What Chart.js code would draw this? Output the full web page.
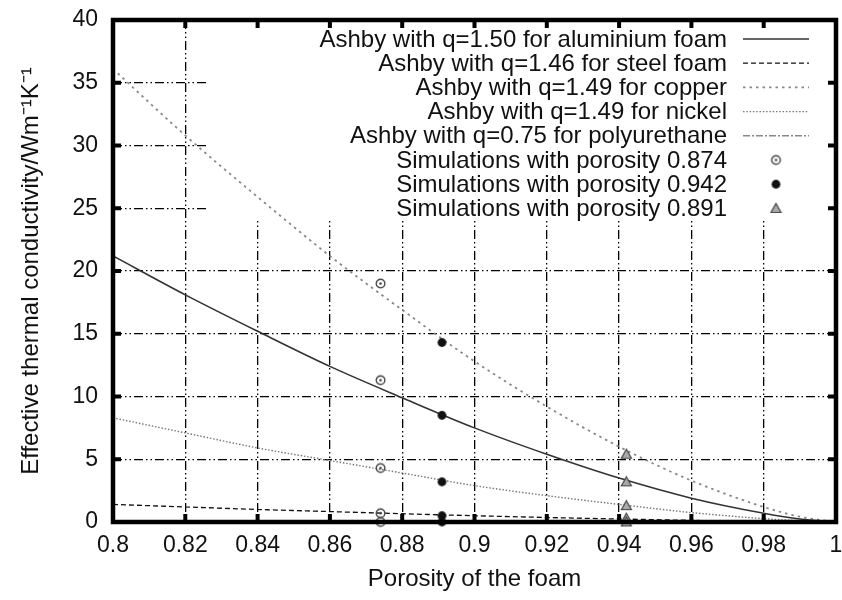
<!DOCTYPE html>
<html lang="en">
<head>
<meta charset="utf-8">
<title>Effective thermal conductivity of foams</title>
<script src="https://cdn.jsdelivr.net/npm/chart.js@4.4.1/dist/chart.umd.min.js"></script>
<style>
    html, body { margin: 0; padding: 0; background: #fff; }
    canvas { display: block; }
</style>
</head>
<body>
<canvas id="conductivityChart" width="842" height="600"></canvas>
<script>
// Porosity values at which the model curves are sampled
const porosity = [0.80, 0.82, 0.84, 0.86, 0.88, 0.90, 0.92, 0.94, 0.96, 0.98, 0.99, 1.00];

// Ashby model curves, effective conductivity in W/(m K)
const aluminium = [21.2, 18.1, 15.2, 12.4, 9.9, 7.5, 5.4, 3.5, 1.9, 0.7, 0.24, 0];
const steel = [1.4, 1.2, 1.0, 0.83, 0.66, 0.5, 0.36, 0.24, 0.13, 0.05, 0.02, 0];
const copper = [36.1, 30.8, 25.9, 21.2, 16.9, 12.8, 9.2, 6.0, 3.3, 1.2, 0.42, 0];
const nickel = [8.3, 7.1, 5.9, 4.9, 3.9, 2.9, 2.1, 1.4, 0.75, 0.27, 0.1, 0];
const polyurethane = [0.08, 0.07, 0.06, 0.05, 0.04, 0.035, 0.03, 0.02, 0.015, 0.008, 0.004, 0];

const curveLabels = [
    'Ashby with q=1.50 for aluminium foam',
    'Ashby with q=1.46 for steel foam',
    'Ashby with q=1.49 for copper',
    'Ashby with q=1.49 for nickel',
    'Ashby with q=0.75 for polyurethane'
];

// Simulation runs: copper, aluminium, nickel, steel, polyurethane
const ringPorosity = 0.874;
const ringK = [19.0, 11.3, 4.3, 0.7, 0.0];
const dotPorosity = 0.891;
const dotK = [14.3, 8.5, 3.2, 0.5, 0.0];
const trianglePorosity = 0.942;
const triangleK = [5.4, 3.2, 1.3, 0.3, 0.0];

const simLabels = [
    'Simulations with porosity 0.874',
    'Simulations with porosity 0.942',
    'Simulations with porosity 0.891'
];

// Axis ticks
const xTicks = [0.8, 0.82, 0.84, 0.86, 0.88, 0.9, 0.92, 0.94, 0.96, 0.98, 1];
const xTickLabels = ['0.8', '0.82', '0.84', '0.86', '0.88', '0.9', '0.92', '0.94', '0.96', '0.98', '1'];
const yTicks = [0, 5, 10, 15, 20, 25, 30, 35, 40];
const yTickLabels = ['0', '5', '10', '15', '20', '25', '30', '35', '40'];

const FONT = '"Liberation Sans", Arial, Helvetica, sans-serif';
const GRID_DASH = [9, 3, 1.5, 3, 1.5, 3];

// key box (in pixels) - grid lines are hidden behind it
const KEY = {
    left: 207,
    bottom: 221,
    textRight: 727,
    sampleFrom: 743,
    sampleTo: 809,
    firstRow: 39,
    rowStep: 24.2
};

// small canvases used as point markers
function makeMarker(size, draw) {
    const c = document.createElement('canvas');
    c.width = size;
    c.height = size;
    draw(c.getContext('2d'), size / 2);
    return c;
}

const ringMarker = makeMarker(13, (g, c) => {
    g.strokeStyle = '#444';
    g.lineWidth = 1.4;
    g.beginPath();
    g.arc(c, c, 4.3, 0, Math.PI * 2);
    g.stroke();
    g.fillStyle = '#444';
    g.beginPath();
    g.arc(c, c, 1.3, 0, Math.PI * 2);
    g.fill();
});

const dotMarker = makeMarker(11, (g, c) => {
    g.fillStyle = '#111';
    g.beginPath();
    g.arc(c, c, 4.4, 0, Math.PI * 2);
    g.fill();
});

const triangleMarker = makeMarker(13, (g, c) => {
    g.fillStyle = '#aaa';
    g.strokeStyle = '#444';
    g.lineWidth = 1.2;
    g.beginPath();
    g.moveTo(c, 1.5);
    g.lineTo(11.5, 10.5);
    g.lineTo(1.5, 10.5);
    g.closePath();
    g.fill();
    g.stroke();
});

const toPoints = (xs, ys) => ys.map((y, i) => ({ x: xs[i], y: y }));
const atPorosity = (x, ys) => ys.map(y => ({ x: x, y: y }));

function curve(label, values, color, width, dash) {
    return {
        type: 'line',
        label: label,
        data: toPoints(porosity, values),
        borderColor: color,
        borderWidth: width,
        borderDash: dash,
        pointRadius: 0,
        cubicInterpolationMode: 'monotone',
        fill: false,
        order: 2
    };
}

function simulations(label, x, values, marker) {
    return {
        type: 'scatter',
        label: label,
        data: atPorosity(x, values),
        pointStyle: marker,
        pointRadius: 5,
        showLine: false,
        clip: 8,
        order: 1
    };
}

const datasets = [
    curve(curveLabels[0], aluminium, '#333', 1.6, []),
    curve(curveLabels[1], steel, '#111', 1.3, [5, 3]),
    curve(curveLabels[2], copper, '#888', 1.8, [2.5, 4]),
    curve(curveLabels[3], nickel, '#777', 1.4, [1.5, 1.8]),
    curve(curveLabels[4], polyurethane, '#888', 1.4, [7, 2, 2, 2]),
    simulations(simLabels[0], ringPorosity, ringK, ringMarker),
    simulations(simLabels[1], dotPorosity, dotK, dotMarker),
    simulations(simLabels[2], trianglePorosity, triangleK, triangleMarker)
];

// Key background, border box with inward ticks, and the key itself
const frameAndKey = {
    id: 'frameAndKey',

    beforeDatasetsDraw(chart) {
        const { ctx, chartArea } = chart;
        ctx.save();
        ctx.fillStyle = '#fff';
        ctx.fillRect(KEY.left, chartArea.top, chartArea.right - KEY.left, KEY.bottom - chartArea.top);
        ctx.restore();
    },

    afterDatasetsDraw(chart) {
        const { ctx, chartArea } = chart;
        const { left, right, top, bottom } = chartArea;
        const xs = chart.scales.x;
        const ys = chart.scales.y;
        const tickLen = 8;

        ctx.save();
        ctx.strokeStyle = '#000';
        ctx.lineWidth = 4;
        ctx.beginPath();
        xTicks.forEach(v => {
            const px = xs.getPixelForValue(v);
            ctx.moveTo(px, bottom);
            ctx.lineTo(px, bottom - tickLen);
            ctx.moveTo(px, top);
            ctx.lineTo(px, top + tickLen);
        });
        yTicks.forEach(v => {
            const py = ys.getPixelForValue(v);
            ctx.moveTo(left, py);
            ctx.lineTo(left + tickLen, py);
            ctx.moveTo(right, py);
            ctx.lineTo(right - tickLen, py);
        });
        ctx.stroke();

        ctx.lineWidth = 4.5;
        ctx.strokeRect(left, top, right - left, bottom - top);
        ctx.restore();
    },

    afterDraw(chart) {
        const ctx = chart.ctx;
        ctx.save();
        ctx.font = '24px ' + FONT;
        ctx.fillStyle = '#111';
        ctx.textAlign = 'right';
        ctx.textBaseline = 'middle';

        chart.data.datasets.forEach((ds, i) => {
            const y = KEY.firstRow + i * KEY.rowStep;
            ctx.fillText(ds.label, KEY.textRight, y + 1);

            if (ds.type === 'line') {
                ctx.save();
                ctx.strokeStyle = ds.borderColor;
                ctx.lineWidth = ds.borderWidth;
                ctx.setLineDash(ds.borderDash || []);
                ctx.beginPath();
                ctx.moveTo(KEY.sampleFrom, y);
                ctx.lineTo(KEY.sampleTo, y);
                ctx.stroke();
                ctx.restore();
            } else {
                const m = ds.pointStyle;
                const cx = (KEY.sampleFrom + KEY.sampleTo) / 2;
                ctx.drawImage(m, cx - m.width / 2, y - m.height / 2);
            }
        });
        ctx.restore();
    }
};

Chart.defaults.font.family = FONT;
Chart.defaults.color = '#111';

new Chart(document.getElementById('conductivityChart'), {
    type: 'line',
    data: { datasets: datasets },
    options: {
        responsive: false,
        animation: false,
        devicePixelRatio: 1,
        layout: {
            padding: { top: 20, right: 4.5, left: 0, bottom: 0 }
        },
        plugins: {
            legend: { display: false },
            tooltip: { enabled: false }
        },
        scales: {
            x: {
                type: 'linear',
                min: 0.8,
                max: 1,
                afterBuildTicks: scale => {
                    scale.ticks = xTicks.map(v => ({ value: v }));
                },
                afterFit: scale => {
                    scale.height = 78;
                    scale.paddingLeft = 0;
                    scale.paddingRight = 0;
                },
                ticks: {
                    autoSkip: false,
                    maxRotation: 0,
                    padding: 10,
                    font: { size: 23 },
                    callback: (v, i) => xTickLabels[i]
                },
                grid: { color: '#000', lineWidth: 1.3, drawTicks: false },
                border: { display: false, dash: GRID_DASH },
                title: {
                    display: true,
                    text: 'Porosity of the foam',
                    font: { size: 24 },
                    padding: { top: 0, bottom: 6 }
                }
            },
            y: {
                type: 'linear',
                min: 0,
                max: 40,
                afterBuildTicks: scale => {
                    scale.ticks = yTicks.map(v => ({ value: v }));
                },
                afterFit: scale => {
                    scale.width = 113;
                    scale.paddingTop = 0;
                    scale.paddingBottom = 0;
                },
                ticks: {
                    autoSkip: false,
                    padding: 15,
                    font: { size: 23 },
                    callback: (v, i) => yTickLabels[i]
                },
                grid: { color: '#000', lineWidth: 1.3, drawTicks: false },
                border: { display: false, dash: GRID_DASH },
                title: {
                    display: true,
                    text: 'Effective thermal conductivity/Wm\u207B\u00B9K\u207B\u00B9',
                    font: { size: 24 },
                    padding: { top: 17, bottom: 0 }
                }
            }
        }
    },
    plugins: [frameAndKey]
});
</script>
</body>
</html>
